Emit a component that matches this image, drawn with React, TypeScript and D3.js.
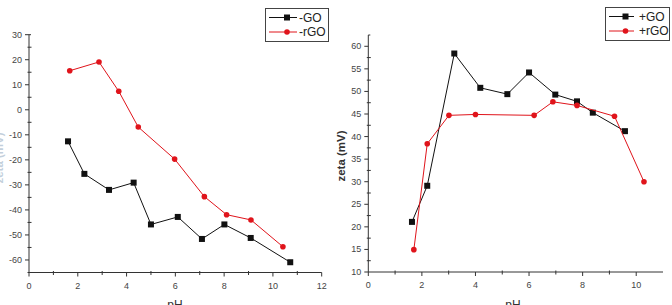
import React from "react";
import * as d3 from "d3";

// Negative-side zeta potential vs pH
const negGO_pH = [1.6, 2.27, 3.28, 4.29, 5.0, 6.1, 7.09, 8.01, 9.09, 10.71];
const negGO_zeta = [-12.6, -25.6, -32.0, -29.1, -45.8, -42.8, -51.6, -45.8, -51.2, -60.9];
const negRGO_pH = [1.67, 2.87, 3.68, 4.48, 5.97, 7.19, 8.1, 9.1, 10.41];
const negRGO_zeta = [15.6, 19.1, 7.4, -6.9, -19.7, -34.7, -41.9, -44.0, -54.7];

// Positive-side zeta potential vs pH
const posGO_pH = [1.63, 2.2, 3.21, 4.18, 5.19, 6.0, 6.98, 7.79, 8.38, 9.58];
const posGO_zeta = [21.1, 29.1, 58.4, 50.8, 49.4, 54.2, 49.3, 47.8, 45.3, 41.2];
const posRGO_pH = [1.7, 2.2, 3.01, 4.0, 6.19, 6.89, 7.79, 9.19, 10.29];
const posRGO_zeta = [14.95, 38.4, 44.7, 44.9, 44.7, 47.7, 46.9, 44.5, 30.0];

const leftXTicks = [0, 2, 4, 6, 8, 10, 12];
const leftYTicks = [30, 20, 10, 0, -10, -20, -30, -40, -50, -60];
const rightXTicks = [0, 2, 4, 6, 8, 10];
const rightYTicks = [60, 55, 50, 45, 40, 35, 30, 25, 20, 15, 10];

const leftLegend = ["-GO", "-rGO"];
const rightLegend = ["+GO", "+rGO"];

const AXIS = "#333";
const LABEL = "#444";
const BLACK = "#111";
const RED = "#e0141b";
const FONT = "Arial, 'Liberation Sans', sans-serif";

type Pt = [number, number];
const zip = (a: number[], b: number[]): Pt[] => a.map((v, i) => [v, b[i]]);

interface PanelProps {
  x: d3.ScaleLinear<number, number>;
  y: d3.ScaleLinear<number, number>;
  xTicks: number[];
  yTicks: number[];
  xMinor: number[];
  yMinor: number[];
  series: { pts: Pt[]; color: string; shape: "square" | "circle" }[];
  legend: string[];
  legendBox: { x: number; y: number; w: number; h: number; lineX0: number; lineX1: number; textX: number };
  yLabel: { x: number; y: number; color: string; weight: string };
  xLabelX: number;
}

function Marker({ cx, cy, color, shape }: { cx: number; cy: number; color: string; shape: string }) {
  return shape === "square" ? (
    <rect x={cx - 3} y={cy - 3} width={6} height={6} fill={color} />
  ) : (
    <circle cx={cx} cy={cy} r={2.8} fill={color} />
  );
}

function Panel(p: PanelProps) {
  const [x0, x1] = p.x.range();
  const [y0, y1] = p.y.range();
  const line = d3
    .line<Pt>()
    .x((d) => p.x(d[0]))
    .y((d) => p.y(d[1]));
  const lb = p.legendBox;
  return (
    <g>
      {/* axes */}
      <line x1={x0} x2={x1} y1={y0} y2={y0} stroke={AXIS} strokeWidth={1} />
      <line x1={x0} x2={x0} y1={y0} y2={y1} stroke={AXIS} strokeWidth={1} />
      <line x1={x0} x2={x0 + 2} y1={y1} y2={y1} stroke={AXIS} strokeWidth={1} />
      {p.xTicks.map((t) => (
        <g key={"xt" + t}>
          <line x1={p.x(t)} x2={p.x(t)} y1={y0} y2={y0 + 4} stroke={AXIS} />
          <text x={p.x(t)} y={y0 + 16} fontSize={9} fill={LABEL} textAnchor="middle" fontFamily={FONT}>
            {t}
          </text>
        </g>
      ))}
      {p.xMinor.map((t) => (
        <line key={"xm" + t} x1={p.x(t)} x2={p.x(t)} y1={y0 - 1.5} y2={y0 + 2.5} stroke={AXIS} />
      ))}
      {p.yTicks.map((t) => (
        <g key={"yt" + t}>
          <line x1={x0 - 4} x2={x0} y1={p.y(t)} y2={p.y(t)} stroke={AXIS} />
          <text x={x0 - 7} y={p.y(t) + 3} fontSize={9} fill={LABEL} textAnchor="end" fontFamily={FONT}>
            {t}
          </text>
        </g>
      ))}
      {p.yMinor.map((t) => (
        <line key={"ym" + t} x1={x0 - 1.5} x2={x0 + 2.5} y1={p.y(t)} y2={p.y(t)} stroke={AXIS} />
      ))}
      {/* axis titles */}
      <text x={p.xLabelX} y={309} fontSize={12} fill="#333" textAnchor="middle" fontFamily={FONT}>
        pH
      </text>
      <text
        transform={`translate(${p.yLabel.x},${p.yLabel.y}) rotate(-90)`}
        fontSize={11.5}
        fontWeight={p.yLabel.weight}
        fill={p.yLabel.color}
        textAnchor="middle"
        fontFamily={FONT}
      >
        zeta (mV)
      </text>
      {/* series */}
      {p.series.map((s, i) => (
        <g key={"s" + i}>
          <path d={line(s.pts) ?? ""} fill="none" stroke={s.color} strokeWidth={1} />
          {s.pts.map((d, j) => (
            <Marker key={j} cx={p.x(d[0])} cy={p.y(d[1])} color={s.color} shape={s.shape} />
          ))}
        </g>
      ))}
      {/* legend */}
      <rect x={lb.x} y={lb.y} width={lb.w} height={lb.h} fill="white" stroke="#444" strokeWidth={1} />
      {p.legend.map((name, i) => {
        const cy = lb.y + 9 + i * 14.5;
        const s = p.series[i];
        return (
          <g key={"lg" + i}>
            <line x1={lb.lineX0} x2={lb.lineX1} y1={cy} y2={cy} stroke={s.color} strokeWidth={1} />
            <Marker cx={(lb.lineX0 + lb.lineX1) / 2 + 4} cy={cy} color={s.color} shape={s.shape} />
            <text x={lb.textX} y={cy + 4} fontSize={12} fill="#222" fontFamily={FONT}>
              {name}
            </text>
          </g>
        );
      })}
    </g>
  );
}

export default function App() {
  const xL = d3.scaleLinear().domain([0, 12]).range([29, 321.7]);
  const yL = d3.scaleLinear().domain([-65, 30]).range([272.5, 34.7]);
  const xR = d3.scaleLinear().domain([0, 11]).range([368.3, 663]);
  const yR = d3.scaleLinear().domain([10, 62.5]).range([272, 35]);

  return (
    <svg
      width={672}
      height={305}
      style={{ position: "absolute", left: 0, top: 0, background: "white" }}
    >
      <rect width={672} height={305} fill="white" />
      <Panel
        x={xL}
        y={yL}
        xTicks={leftXTicks}
        yTicks={leftYTicks}
        xMinor={d3.range(1, 12, 2)}
        yMinor={d3.range(-65, 30, 10)}
        series={[
          { pts: zip(negGO_pH, negGO_zeta), color: BLACK, shape: "square" },
          { pts: zip(negRGO_pH, negRGO_zeta), color: RED, shape: "circle" },
        ]}
        legend={leftLegend}
        legendBox={{ x: 265.5, y: 8.5, w: 63, h: 33, lineX0: 269, lineX1: 297, textX: 299 }}
        yLabel={{ x: 3, y: 158, color: "#c3cfdb", weight: "bold" }}
        xLabelX={175}
      />
      <Panel
        x={xR}
        y={yR}
        xTicks={rightXTicks}
        yTicks={rightYTicks}
        xMinor={d3.range(1, 11, 2)}
        yMinor={d3.range(12.5, 62.5, 5)}
        series={[
          { pts: zip(posGO_pH, posGO_zeta), color: BLACK, shape: "square" },
          { pts: zip(posRGO_pH, posRGO_zeta), color: RED, shape: "circle" },
        ]}
        legend={rightLegend}
        legendBox={{ x: 605.5, y: 7.5, w: 64, h: 33, lineX0: 609, lineX1: 634, textX: 639 }}
        yLabel={{ x: 345, y: 156, color: "#333", weight: "bold" }}
        xLabelX={513}
      />
    </svg>
  );
}
